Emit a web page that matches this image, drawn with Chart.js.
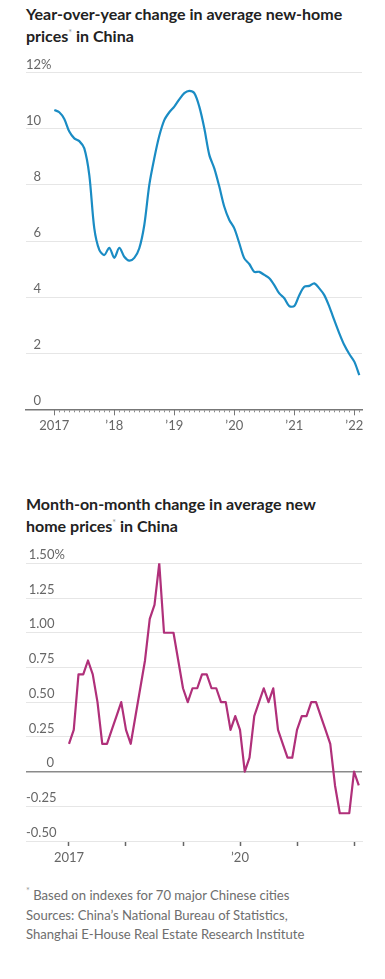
<!DOCTYPE html>
<html>
<head>
<meta charset="utf-8">
<script src="https://cdn.jsdelivr.net/npm/chart.js@4.4.1/dist/chart.umd.min.js"></script>
<style>
  html, body { margin: 0; padding: 0; background: #fff; }
  body { width: 385px; height: 979px; position: relative; overflow: hidden; font-family: Lato, "DejaVu Sans", sans-serif; }
  .titulo { position: absolute; left: 26px; margin: 0; font-size: 16px; line-height: 22px; font-weight: 700; color: #222; white-space: nowrap; }
  .titulo sup, .nota sup { font-size: 9px; color: #999; font-weight: 400; vertical-align: 6px; line-height: 0; }
  .caixa { position: absolute; left: 0; width: 385px; }
  .nota { position: absolute; left: 26px; top: 886px; font-size: 13.1px; line-height: 19.7px; color: #6e6e6e; white-space: nowrap; }
</style>
</head>
<body>

<h1 class="titulo" style="top:3px">Year-over-year change in average new-home<br>prices<sup>*</sup> in China</h1>
<div class="caixa" style="top:50px;height:400px"><canvas id="grafico-anual"></canvas></div>

<h1 class="titulo" style="top:493px">Month-on-month change in average new<br>home prices<sup>*</sup> in China</h1>
<div class="caixa" style="top:545px;height:330px"><canvas id="grafico-mensal"></canvas></div>

<div class="nota">
  <sup>*</sup> Based on indexes for 70 major Chinese cities<br>
  Sources: China’s National Bureau of Statistics,<br>
  Shanghai E-House Real Estate Research Institute
</div>

<script>
// Dados: meses de jan/2017 a fev/2022
const anualJan2017aFev2022 = [
  10.67, 10.59, 10.35, 9.9, 9.66, 9.56, 9.3, 8.35, 6.45, 5.68, 5.5, 5.76,
  5.4, 5.76, 5.44, 5.3, 5.4, 5.74, 6.57, 8.0, 8.95, 9.75, 10.31, 10.59,
  10.79, 11.05, 11.27, 11.35, 11.27, 10.79, 10.02, 9.07, 8.59, 7.94, 7.22, 6.75,
  6.45, 5.92, 5.38, 5.18, 4.9, 4.9, 4.79, 4.67, 4.43, 4.13, 3.96, 3.68,
  3.68, 4.07, 4.37, 4.4, 4.49, 4.31, 4.07, 3.66, 3.18, 2.71, 2.29, 1.97,
  1.7, 1.22
];

const mensalJan2017aFev2022 = [
  0.2, 0.3, 0.7, 0.7, 0.8, 0.7, 0.5, 0.2, 0.2, 0.3, 0.4, 0.5,
  0.3, 0.2, 0.4, 0.6, 0.8, 1.1, 1.2, 1.5, 1.0, 1.0, 1.0, 0.8,
  0.6, 0.5, 0.6, 0.6, 0.7, 0.7, 0.6, 0.6, 0.5, 0.5, 0.3, 0.4,
  0.3, 0.0, 0.1, 0.4, 0.5, 0.6, 0.5, 0.6, 0.3, 0.2, 0.1, 0.1,
  0.3, 0.4, 0.4, 0.5, 0.5, 0.4, 0.3, 0.2, -0.1, -0.3, -0.3, -0.3,
  0.0, -0.1
];

// Rótulos dos eixos
const rotulosAnos1 = ['2017', '’18', '’19', '’20', '’21', '’22'];
const rotulosAnos2 = ['2017', '', '', '’20', '', ''];
const rotulosY1 = ['0', '2', '4', '6', '8', '10', '12%'];
const rotulosY2 = ['-0.50', '-0.25', '0', '0.25', '0.50', '0.75', '1.00', '1.25', '1.50%'];

const FIG = '\u2007';   // espaço do tamanho de um dígito
const PONTO = '\u2008'; // espaço do tamanho de um ponto

Chart.defaults.font.family = 'Lato, "DejaVu Sans", sans-serif';
Chart.defaults.color = '#666';

// Marcas maiores nos anos (eixo x do primeiro gráfico)
const marcasAno = {
  id: 'marcasAno',
  afterDraw(chart, args, opts) {
    const escala = chart.scales.x;
    const ctx = chart.ctx;
    ctx.save();
    ctx.strokeStyle = opts.cor;
    ctx.lineWidth = 1;
    escala.ticks.forEach(t => {
      if (t.value % 12 !== 0) return;
      const px = Math.round(escala.getPixelForValue(t.value)) + 0.5;
      ctx.beginPath();
      ctx.moveTo(px, escala.top);
      ctx.lineTo(px, escala.top + opts.comprimento);
      ctx.stroke();
    });
    ctx.restore();
  }
};

function semPadding(escala) {
  escala.paddingTop = 0;
  escala.paddingBottom = 0;
  escala.paddingLeft = 0;
  escala.paddingRight = 0;
}

// Gráfico 1: variação anual
new Chart(document.getElementById('grafico-anual'), {
  type: 'line',
  data: {
    datasets: [{
      data: anualJan2017aFev2022.map((v, i) => ({ x: i, y: v })),
      borderColor: '#1a8cc4',
      borderWidth: 2.2,
      pointRadius: 0,
      tension: 0.3,
      borderJoinStyle: 'round'
    }]
  },
  plugins: [marcasAno],
  options: {
    responsive: true,
    maintainAspectRatio: false,
    animation: false,
    layout: { padding: { top: 22.7, bottom: 10.7, left: 26, right: 23 } },
    plugins: {
      legend: { display: false },
      tooltip: { enabled: false },
      marcasAno: { cor: '#777', comprimento: 6 }
    },
    scales: {
      x: {
        type: 'linear',
        min: -5.66,
        max: 61.54,
        afterBuildTicks(escala) {
          escala.ticks = anualJan2017aFev2022.map((v, i) => ({ value: i }));
        },
        ticks: {
          autoSkip: false,
          maxRotation: 0,
          padding: 6,
          color: '#666',
          font: { size: 13 },
          callback: (v) => v % 12 === 0 ? rotulosAnos1[v / 12] : ''
        },
        grid: { drawOnChartArea: false, tickLength: 3, tickColor: '#888' },
        border: { color: '#777', width: 1.5 },
        afterFit(escala) { escala.height = 30; semPadding(escala); }
      },
      y: {
        min: 0,
        max: 12,
        ticks: {
          stepSize: 2,
          mirror: true,
          padding: 0,
          crossAlign: 'near',
          labelOffset: -8,
          color: '#666',
          font: { size: 13 },
          callback: (v, i) => (v < 10 ? FIG : '') + rotulosY1[i]
        },
        grid: {
          drawTicks: false,
          color: (c) => c.tick.value === 0 ? 'rgba(0,0,0,0)' : '#e6e6e6'
        },
        border: { display: false },
        afterFit(escala) { escala.width = 0; semPadding(escala); }
      }
    }
  }
});

// Gráfico 2: variação mensal
new Chart(document.getElementById('grafico-mensal'), {
  type: 'line',
  data: {
    datasets: [{
      data: mensalJan2017aFev2022.map((v, i) => ({ x: i, y: v })),
      borderColor: '#b0307a',
      borderWidth: 2.2,
      pointRadius: 0,
      tension: 0,
      borderJoinStyle: 'round'
    }]
  },
  options: {
    responsive: true,
    maintainAspectRatio: false,
    animation: false,
    layout: { padding: { top: 18.3, bottom: 4, left: 26, right: 23 } },
    plugins: {
      legend: { display: false },
      tooltip: { enabled: false }
    },
    scales: {
      x: {
        type: 'linear',
        min: -9.05,
        max: 61.68,
        afterBuildTicks(escala) {
          escala.ticks = rotulosAnos2.map((r, i) => ({ value: i * 12 }));
        },
        ticks: {
          autoSkip: false,
          maxRotation: 0,
          padding: 4,
          color: '#666',
          font: { size: 13 },
          callback: (v) => rotulosAnos2[v / 12]
        },
        grid: { drawOnChartArea: false, tickLength: 5, tickColor: '#666', tickWidth: 1.5 },
        border: { color: '#e6e6e6', width: 1 },
        afterFit(escala) { escala.height = 30; semPadding(escala); }
      },
      y: {
        min: -0.5,
        max: 1.5,
        ticks: {
          stepSize: 0.25,
          mirror: true,
          padding: 0,
          crossAlign: 'near',
          labelOffset: -8.5,
          color: '#666',
          font: { size: 13 },
          callback: (v, i) => {
            if (v < 0) return rotulosY2[i];
            if (v === 0) return PONTO + FIG + PONTO + FIG + rotulosY2[i];
            return PONTO + rotulosY2[i];
          }
        },
        grid: {
          drawTicks: false,
          color: (c) => c.tick.value === 0 ? '#8a8a8a' : '#e6e6e6',
          lineWidth: (c) => c.tick.value === 0 ? 1.6 : 1
        },
        border: { display: false },
        afterFit(escala) { escala.width = 0; semPadding(escala); }
      }
    }
  }
});
</script>
</body>
</html>
